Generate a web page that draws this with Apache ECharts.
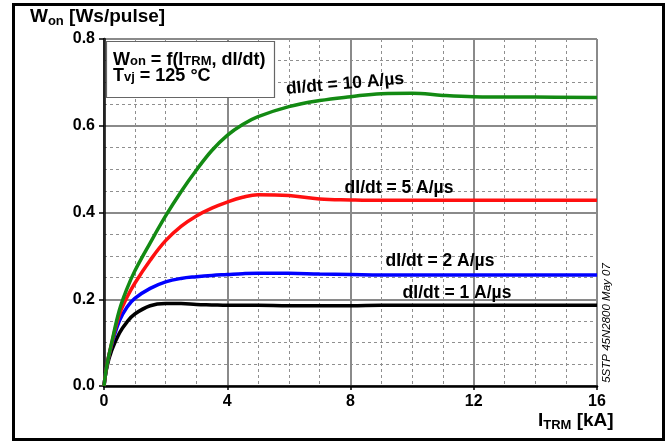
<!DOCTYPE html>
<html>
<head>
<meta charset="utf-8">
<script src="https://cdn.jsdelivr.net/npm/echarts@6/dist/echarts.min.js"></script>
<style>html,body{margin:0;padding:0;background:#fff}#c{width:669px;height:441px}</style>
</head>
<body>
<div id="c"></div>
<script>
const currentKA = [0, 0.1, 0.25, 0.5, 0.75, 1, 1.5, 2, 2.5, 3, 3.5, 4, 4.5, 5, 6, 7, 8, 9, 10, 11, 12, 14, 16];
const won10 = [0, 0.05, 0.1, 0.175, 0.225, 0.265, 0.33, 0.392, 0.448, 0.498, 0.543, 0.578, 0.603, 0.621, 0.644, 0.658, 0.667, 0.674, 0.675, 0.67, 0.667, 0.666, 0.665];
const won5  = [0, 0.05, 0.098, 0.165, 0.205, 0.237, 0.29, 0.335, 0.368, 0.392, 0.41, 0.424, 0.435, 0.441, 0.439, 0.431, 0.429, 0.428, 0.428, 0.428, 0.428, 0.428, 0.428];
const won2  = [0, 0.05, 0.095, 0.15, 0.182, 0.202, 0.225, 0.24, 0.248, 0.252, 0.255, 0.257, 0.259, 0.26, 0.26, 0.258, 0.257, 0.256, 0.256, 0.256, 0.256, 0.256, 0.256];
const won1  = [0, 0.045, 0.082, 0.122, 0.148, 0.166, 0.185, 0.19, 0.19, 0.188, 0.187, 0.186, 0.186, 0.186, 0.185, 0.185, 0.185, 0.186, 0.186, 0.186, 0.186, 0.186, 0.186];
const seriesNames = ['dI/dt = 10 A/µs', 'dI/dt = 5 A/µs', 'dI/dt = 2 A/µs', 'dI/dt = 1 A/µs'];
const seriesColors = ['#138a13', '#ff1010', '#0000ff', '#000000'];
const seriesValues = [won10, won5, won2, won1];

const FONT = "'Liberation Sans', Arial, sans-serif";
const chart = echarts.init(document.getElementById('c'), null, {renderer: 'canvas'});

const pairs = v => currentKA.map((x, i) => [x, v[i]]);

const sub = {fontSize: 13, fontWeight: 'bold', fontFamily: FONT, lineHeight: 8, verticalAlign: 'bottom', fill: '#000'};
const main = {fontSize: 19, fontWeight: 'bold', fontFamily: FONT, lineHeight: 22, fill: '#000'};

const option = {
  animation: false,
  backgroundColor: '#fff',
  grid: {left: 104, right: 72, top: 39, bottom: 55, show: false},
  xAxis: {
    type: 'value', min: 0, max: 16, interval: 4,
    axisLine: {show: true, onZero: false, lineStyle: {color: '#000', width: 2.5}},
    axisTick: {show: true, length: 4, lineStyle: {color: '#000', width: 1.5}},
    axisLabel: {color: '#000', fontSize: 16, fontWeight: 'bold', fontFamily: FONT, margin: 8},
    splitLine: {show: true, lineStyle: {color: '#8a8a8a', width: 2}},
    minorTick: {show: false, splitNumber: 4},
    minorSplitLine: {show: true, lineStyle: {color: '#8f8f8f', width: 1, type: [3, 3]}}
  },
  yAxis: [{
    type: 'value', min: 0, max: 0.8, interval: 0.2,
    axisLine: {show: true, onZero: false, lineStyle: {color: '#000', width: 2.5}},
    axisTick: {show: true, length: 5, lineStyle: {color: '#000', width: 1.5}},
    axisLabel: {color: '#000', fontSize: 16, fontWeight: 'bold', fontFamily: FONT, margin: 9,
      formatter: v => v.toFixed(1)},
    splitLine: {show: true, lineStyle: {color: '#8a8a8a', width: 2}},
    minorTick: {show: false, splitNumber: 4},
    minorSplitLine: {show: true, lineStyle: {color: '#8f8f8f', width: 1, type: [3, 3]}}
  }, {
    type: 'value', min: 0, max: 0.8, interval: 0.2, position: 'right',
    axisLine: {show: true, lineStyle: {color: '#222', width: 2}},
    axisTick: {show: false}, axisLabel: {show: false}, splitLine: {show: false}
  }],
  series: seriesValues.map((v, i) => ({
    name: seriesNames[i], type: 'line', data: pairs(v), yAxisIndex: 0,
    smooth: 0.4, showSymbol: false, symbol: 'none',
    lineStyle: {color: seriesColors[i], width: 3.5}, z: 5 - i
  })),
  graphic: [
    {type: 'rect', shape: {x: 13.5, y: 4.5, width: 650, height: 435}, style: {fill: 'none', stroke: '#000', lineWidth: 3}, z: 100},
    {type: 'text', left: 30, top: 7, z: 100, style: {
      text: '{m|W}{s|on}{m| [Ws/pulse]}', rich: {m: main, s: sub}}},
    {type: 'text', left: 538, top: 411, z: 100, style: {
      text: '{m|I}{s|TRM}{m| [kA]}', rich: {m: main, s: sub}}},
    {type: 'rect', shape: {x: 106.5, y: 41.5, width: 168, height: 56}, style: {fill: '#fff', stroke: '#666', lineWidth: 1.2}, z: 90},
    {type: 'text', left: 113, top: 51, z: 100, style: {
      text: '{m|W}{s|on}{m| = f(I}{s|TRM}{m|, dI/dt)}\n{m|T}{s|vj}{m| = 125 °C}',
      rich: {m: {...main, fontSize: 18, lineHeight: 16}, s: {...sub, fontSize: 13}}}},
    {type: 'text', x: 345, y: 84, rotation: 5 * Math.PI / 180, z: 100, style: {
      text: seriesNames[0], font: 'bold 17.5px ' + FONT, fill: '#000', align: 'center', verticalAlign: 'middle'}},
    {type: 'text', x: 399, y: 188, z: 100, style: {
      text: seriesNames[1], font: 'bold 17.5px ' + FONT, fill: '#000', align: 'center', verticalAlign: 'middle'}},
    {type: 'text', x: 440, y: 261, z: 100, style: {
      text: seriesNames[2], font: 'bold 17.5px ' + FONT, fill: '#000', align: 'center', verticalAlign: 'middle'}},
    {type: 'text', x: 457, y: 293, z: 100, style: {
      text: seriesNames[3], font: 'bold 17.5px ' + FONT, fill: '#000', align: 'center', verticalAlign: 'middle'}},
    {type: 'text', x: 607, y: 323, rotation: Math.PI / 2, z: 100, style: {
      text: '5STP 45N2800 May 07', font: 'italic 11.5px ' + FONT, fill: '#000', align: 'center', verticalAlign: 'middle'}}
  ]
};
chart.setOption(option);
</script>
</body>
</html>
